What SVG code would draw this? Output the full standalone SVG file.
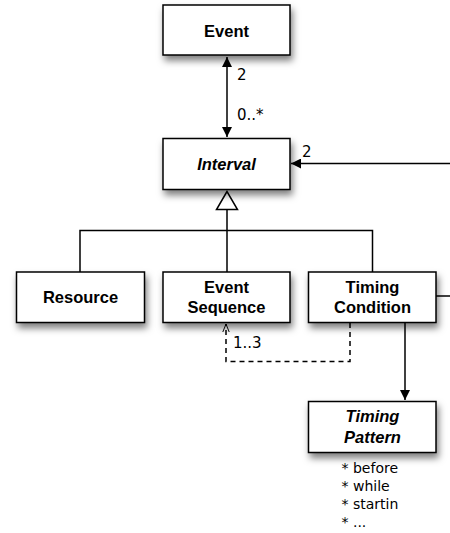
<svg xmlns="http://www.w3.org/2000/svg" width="450" height="533" viewBox="0 0 450 533">
<defs>
<filter id="sh" x="-20%" y="-30%" width="150%" height="180%">
<feDropShadow dx="2" dy="5" stdDeviation="3.5" flood-color="#000" flood-opacity="0.5"/>
</filter>
<marker id="fill" viewBox="0 0 10 10" refX="10" refY="5" markerWidth="10" markerHeight="10" markerUnits="userSpaceOnUse" orient="auto-start-reverse">
<path d="M0,0 L10,5 L0,10 Z" fill="#000"/>
</marker>
<marker id="open" viewBox="0 0 10 10" refX="10" refY="5" markerWidth="8" markerHeight="8" markerUnits="userSpaceOnUse" orient="auto">
<path d="M0,1 L10,5 L0,9" fill="none" stroke="#000" stroke-width="1.2"/>
</marker>
</defs>
<style>
.box{fill:#fff;stroke:#000;stroke-width:1.5;filter:url(#sh)}
.t{font-family:"Liberation Sans",Arial,sans-serif;font-weight:bold;font-size:16.5px;text-anchor:middle;fill:#000}
.i{font-style:italic}
.lbl{font-family:"DejaVu Sans",sans-serif;font-size:15px;fill:#000}
.li{font-family:"DejaVu Sans",sans-serif;font-size:14px;fill:#000}
.ln{fill:none;stroke:#000;stroke-width:1.5}
.d{stroke-dasharray:5,4}
</style>
<g id="connectors">
<line class="ln" x1="227" y1="57" x2="227" y2="137" marker-start="url(#fill)" marker-end="url(#fill)"/>
<line class="ln" x1="450" y1="163.5" x2="291" y2="163.5" marker-end="url(#fill)"/>
<path class="ln" d="M80,272 V230.5 H372.5 V272 M227,272 V209"/>
<path d="M227,191.5 L216.5,209.5 L237.5,209.5 Z" fill="#fff" stroke="#000" stroke-width="1.5"/>
<line class="ln" x1="436" y1="296" x2="450" y2="296"/>
<path class="ln d" d="M350,323 V361.5 H226 V324" marker-end="url(#open)"/>
<line class="ln" x1="405" y1="323" x2="405" y2="400" marker-end="url(#fill)"/>
<text class="lbl" x="237" y="80">2</text>
<text class="lbl" x="237" y="120">0..*</text>
<text class="lbl" x="302" y="157">2</text>
<text class="lbl" x="233" y="348">1..3</text>
</g>
<g id="event">
<rect class="box" x="163" y="5" width="127" height="50"/>
<text class="t" x="226.5" y="36.5">Event</text>
</g>
<g id="interval">
<rect class="box" x="163" y="138.5" width="127" height="51"/>
<text class="t i" x="226.5" y="169.5">Interval</text>
</g>
<g id="resource">
<rect class="box" x="16.5" y="272" width="128" height="50.5"/>
<text class="t" x="80.5" y="302.5">Resource</text>
</g>
<g id="event-sequence">
<rect class="box" x="163" y="272" width="127" height="50.5"/>
<text class="t" x="226.5" y="292.5">Event</text>
<text class="t" x="226.5" y="312.5">Sequence</text>
</g>
<g id="timing-condition">
<rect class="box" x="308.5" y="272" width="127.5" height="50.5"/>
<text class="t" x="372.5" y="292.5">Timing</text>
<text class="t" x="372.5" y="312.5">Condition</text>
</g>
<g id="timing-pattern">
<rect class="box" x="308.5" y="401.5" width="127.5" height="51"/>
<text class="t i" x="372.5" y="422">Timing</text>
<text class="t i" x="372.5" y="443">Pattern</text>
<text class="li" x="341.5" y="473">* before</text>
<text class="li" x="341.5" y="491">* while</text>
<text class="li" x="341.5" y="509">* startin</text>
<text class="li" x="341.5" y="527">* ...</text>
</g>
</svg>
